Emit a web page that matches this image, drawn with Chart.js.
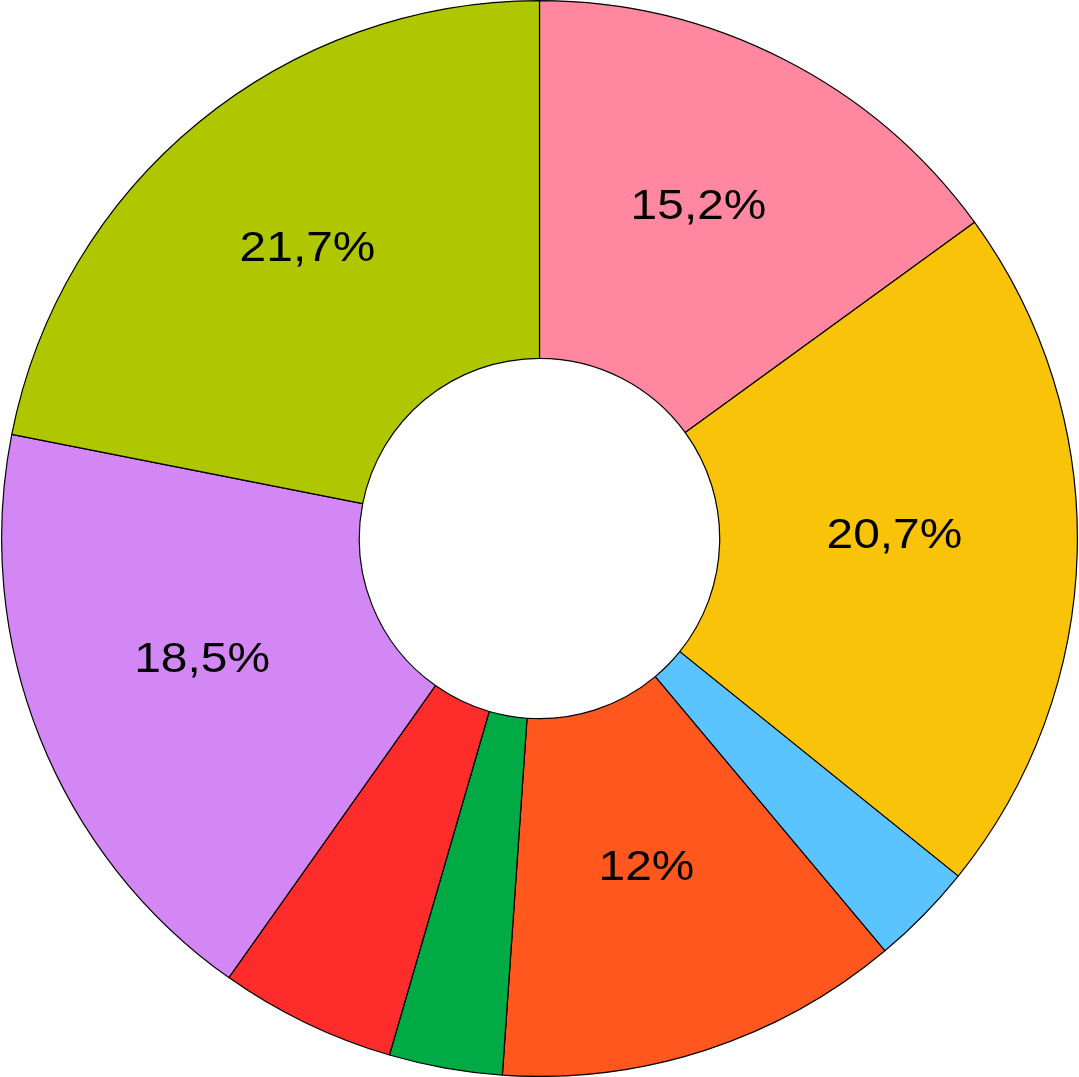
<!DOCTYPE html>
<html>
<head>
<meta charset="utf-8">
<script src="https://cdn.jsdelivr.net/npm/chart.js@4/dist/chart.umd.min.js"></script>
<style>
  html, body { margin: 0; padding: 0; background: #ffffff; }
  #wrap { width: 1079px; height: 1077px; }
</style>
</head>
<body>
<div id="wrap"><canvas id="c"></canvas></div>
<script>
const categories = ["A", "B", "C", "D", "E", "F", "G", "H"];
const values = [15.0, 20.8, 3.1, 12.2, 3.4, 5.3, 18.3, 21.9];
const labelsShown = ["15,2%", "20,7%", "", "12%", "", "", "18,5%", "21,7%"];
const colors = ["#FF879F", "#F9C30A", "#5BC4FE", "#FF571E", "#00AA44", "#FF2C2C", "#D387F5", "#AFC700"];

const sliceLabels = {
  id: "sliceLabels",
  afterDatasetsDraw(chart) {
    const ctx = chart.ctx;
    const meta = chart.getDatasetMeta(0);
    meta.data.forEach((arc, i) => {
      const t = labelsShown[i];
      if (!t) return;
      const p = arc.tooltipPosition();
      ctx.save();
      ctx.font = "42px 'Liberation Sans', Arial, sans-serif";
      ctx.fillStyle = "#000000";
      ctx.textAlign = "center";
      ctx.textBaseline = "alphabetic";
      ctx.translate(p.x - 4, p.y);
      ctx.scale(1.14, 1);
      ctx.fillText(t, 0, 0);
      ctx.restore();
    });
  }
};

new Chart(document.getElementById("c"), {
  type: "doughnut",
  data: {
    labels: categories,
    datasets: [{
      data: values,
      backgroundColor: colors,
      borderColor: "#000000",
      borderWidth: 1.2
    }]
  },
  options: {
    responsive: true,
    maintainAspectRatio: false,
    animation: false,
    cutout: "33.5%",
    layout: { padding: 0 },
    plugins: {
      legend: { display: false },
      tooltip: { enabled: false }
    }
  },
  plugins: [sliceLabels]
});
</script>
</body>
</html>
